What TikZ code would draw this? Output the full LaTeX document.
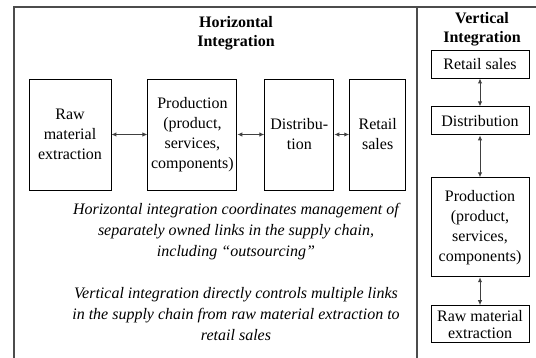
\documentclass[tikz,border=0pt]{standalone}
\usepackage{fontspec}
\setmainfont{Liberation Serif}
\usetikzlibrary{arrows.meta,positioning}
\definecolor{framegray}{gray}{0.3}
\definecolor{linkgray}{gray}{0.25}

\begin{document}
\begin{tikzpicture}[
  x=1pt, y=-1pt,
  font=\fontsize{16}{20}\selectfont,
  stage/.style={draw, line width=0.9pt, align=center, inner sep=0pt, minimum height=111pt},
  vstage/.style={draw, line width=0.9pt, align=center, inner sep=0pt, minimum width=98pt},
  head/.style={font=\fontsize{16}{19.5}\selectfont\bfseries, align=center},
  note/.style={font=\fontsize{16}{21}\selectfont\itshape, align=center},
  arr/.style={{Latex[length=5pt,width=4.5pt]}-{Latex[length=5pt,width=4.5pt]}, line width=1pt, color=linkgray},
]
  \useasboundingbox (0,0) rectangle (536,358);

  % frame and divider
  \draw[framegray, line width=1.4pt] (14,358) -- (14,7) -- (536,7);
  \draw[framegray, line width=1.4pt] (417,7) -- (417,358);

  % horizontal chain
  \node[head] (hhead) at (236,33) {Horizontal\\Integration};
  \node[stage, minimum width=82pt] (raw) at (70,134.5) {Raw\\material\\extraction};
  \node[stage, minimum width=89pt, right=36pt of raw] (prod) {Production\\(product,\\services,\\components)};
  \node[stage, minimum width=69pt, right=27pt of prod] (dist) {Distribu-\\tion};
  \node[stage, minimum width=56pt, right=15pt of dist] (retail) {Retail\\sales};

  \draw[arr] (raw) -- (prod);
  \draw[arr] (prod) -- (dist);
  \draw[arr] (dist) -- (retail);

  \node[note] (hnote) at (236,232) {Horizontal integration coordinates management of\\
    separately owned links in the supply chain,\\including ``outsourcing''};
  \node[note] (vnote) at (236,314) {Vertical integration directly controls multiple links\\
    in the supply chain from raw material extraction to\\retail sales};

  % vertical chain
  \node[head] (vhead) at (482,29) {Vertical\\Integration};
  \node[vstage, minimum height=28pt] (vretail) at (480,64) {Retail sales};
  \node[vstage, minimum height=28pt, below=28pt of vretail] (vdist) {Distribution};
  \node[vstage, minimum height=99pt, below=42pt of vdist] (vprod) {Production\\(product,\\services,\\components)};
  \node[vstage, minimum height=37pt, below=28pt of vprod, font=\fontsize{16}{17}\selectfont] (vraw) {Raw material\\extraction};

  \draw[arr] (vretail) -- (vdist);
  \draw[arr] (vdist) -- (vprod);
  \draw[arr] (vprod) -- (vraw);
\end{tikzpicture}
\end{document}
